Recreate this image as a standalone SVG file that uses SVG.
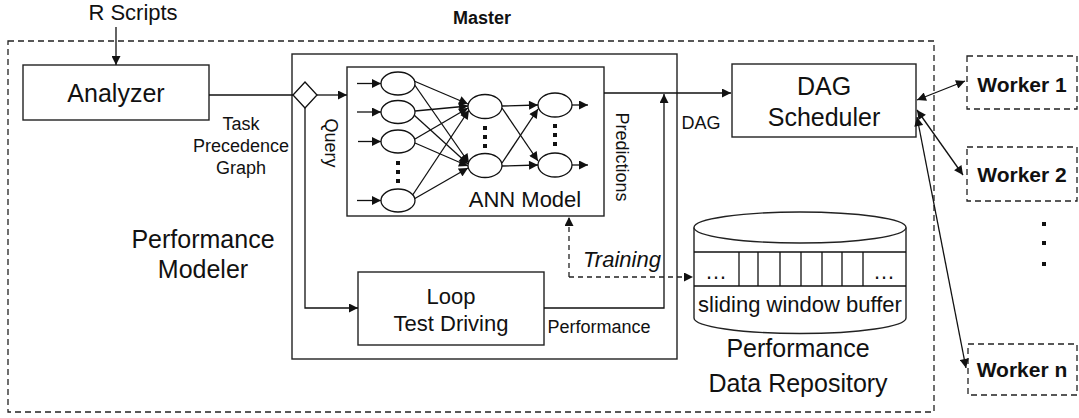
<svg xmlns="http://www.w3.org/2000/svg" width="1079" height="418" viewBox="0 0 1079 418">
<style>
text{font-family:"Liberation Sans",Arial,sans-serif;fill:#111}
.box{fill:#fff;stroke:#222;stroke-width:1.4}
.dash{fill:none;stroke:#222;stroke-width:1.3;stroke-dasharray:6 4}
.ln{fill:none;stroke:#111;stroke-width:1.3}
.arr{marker-end:url(#ah)}
.big{font-size:25px}
.mid{font-size:22px}
.sm{font-size:18px}
.bold{font-weight:bold}
.nd{fill:#fff;stroke:#111;stroke-width:1.3}
</style>
<defs>
<marker id="ah" viewBox="0 0 10 10" refX="10" refY="5" markerWidth="10" markerHeight="9" markerUnits="userSpaceOnUse" orient="auto-start-reverse">
<path d="M0,0 L10,5 L0,10 z" fill="#111"/>
</marker>
</defs>

<g id="master">
<rect x="8" y="41" width="926" height="371" class="dash"/>
<text x="482" y="24" text-anchor="middle" class="bold" font-size="18">Master</text>
</g>

<g id="r-scripts">
<text x="133" y="20" text-anchor="middle" class="mid">R Scripts</text>
</g>

<g id="analyzer">
<rect x="23" y="65" width="186" height="55" class="box"/>
<text x="116" y="102" text-anchor="middle" class="big">Analyzer</text>
</g>

<g id="performance-modeler">
<rect x="292" y="54" width="385" height="305" class="box" fill="none" style="fill:none"/>
<text x="203" y="248" text-anchor="middle" class="big">Performance</text>
<text x="203" y="278" text-anchor="middle" class="big">Modeler</text>
</g>

<g id="diamond">
<polygon points="305,82 317,95 305,108 293,95" class="nd"/>
</g>

<g id="ann-model">
<rect x="347" y="67" width="257" height="149" class="box"/>
<text x="525" y="207" text-anchor="middle" class="mid">ANN Model</text>
<g class="ln">
<line x1="357" y1="83.5" x2="381" y2="83.5" class="arr"/>
<line x1="357" y1="112" x2="381" y2="112" class="arr"/>
<line x1="358" y1="141.5" x2="381" y2="141.5" class="arr"/>
<line x1="357" y1="200.5" x2="381" y2="200.5" class="arr"/>
<line x1="414" y1="81" x2="468" y2="104" class="arr"/>
<line x1="414" y1="84" x2="469" y2="163" class="arr"/>
<line x1="415" y1="111" x2="468" y2="106" class="arr"/>
<line x1="414" y1="115" x2="468" y2="164" class="arr"/>
<line x1="415" y1="139" x2="468" y2="108" class="arr"/>
<line x1="415" y1="143" x2="468" y2="166" class="arr"/>
<line x1="412" y1="196" x2="469" y2="110" class="arr"/>
<line x1="414" y1="199" x2="468" y2="168" class="arr"/>
<line x1="502" y1="106" x2="538" y2="105" class="arr"/>
<line x1="502" y1="108" x2="538" y2="161" class="arr"/>
<line x1="502" y1="163" x2="538" y2="109" class="arr"/>
<line x1="502" y1="166" x2="538" y2="165" class="arr"/>
<line x1="572" y1="105" x2="588" y2="105" class="arr"/>
<line x1="572" y1="165" x2="588" y2="165" class="arr"/>
</g>
<ellipse cx="398" cy="83.5" rx="17" ry="11.5" class="nd"/>
<ellipse cx="398" cy="112" rx="17" ry="11.5" class="nd"/>
<ellipse cx="398" cy="141.5" rx="17" ry="11.5" class="nd"/>
<ellipse cx="398" cy="200.5" rx="17" ry="11.5" class="nd"/>
<ellipse cx="485" cy="106.5" rx="17" ry="12" class="nd"/>
<ellipse cx="485" cy="165.5" rx="17" ry="12" class="nd"/>
<ellipse cx="555" cy="105" rx="17" ry="12" class="nd"/>
<ellipse cx="555" cy="165" rx="17" ry="12" class="nd"/>
<g fill="#111">
<rect x="396" y="161" width="4" height="4"/><rect x="396" y="170" width="4" height="4"/><rect x="396" y="179" width="4" height="4"/>
<rect x="483" y="126" width="4" height="4"/><rect x="483" y="135" width="4" height="4"/><rect x="483" y="144" width="4" height="4"/>
<rect x="553" y="124" width="4" height="4"/><rect x="553" y="133" width="4" height="4"/><rect x="553" y="142" width="4" height="4"/>
</g>
</g>

<g id="loop-test-driving">
<rect x="358" y="272" width="186" height="73" class="box"/>
<text x="451" y="304" text-anchor="middle" class="mid">Loop</text>
<text x="451" y="331" text-anchor="middle" class="mid">Test Driving</text>
</g>

<g id="dag-scheduler">
<rect x="732" y="64" width="184" height="73" class="box"/>
<text x="824" y="95" text-anchor="middle" class="big">DAG</text>
<text x="824" y="126" text-anchor="middle" class="big">Scheduler</text>
</g>

<g id="data-repository">
<path d="M694,227.5 V318 A106,15.5 0 0 0 906,318 V227.5" class="box"/>
<ellipse cx="800" cy="227.5" rx="106" ry="15.5" class="box"/>
<g class="ln">
<line x1="694" y1="252" x2="906" y2="252"/>
<line x1="694" y1="286" x2="906" y2="286"/>
<line x1="739" y1="252" x2="739" y2="286"/>
<line x1="758" y1="252" x2="758" y2="286"/>
<line x1="780" y1="252" x2="780" y2="286"/>
<line x1="801" y1="252" x2="801" y2="286"/>
<line x1="822" y1="252" x2="822" y2="286"/>
<line x1="842" y1="252" x2="842" y2="286"/>
<line x1="863" y1="252" x2="863" y2="286"/>
</g>
<text x="716" y="279" text-anchor="middle" class="mid">…</text>
<text x="884" y="279" text-anchor="middle" class="mid">…</text>
<text x="800" y="312" text-anchor="middle" class="mid">sliding window buffer</text>
<text x="798" y="357" text-anchor="middle" class="big">Performance</text>
<text x="798" y="392" text-anchor="middle" class="big">Data Repository</text>
</g>

<g id="worker-1">
<rect x="967" y="56" width="110" height="53" class="dash"/>
<text x="1022" y="92" text-anchor="middle" class="bold" font-size="21">Worker 1</text>
</g>
<g id="worker-2">
<rect x="967" y="147" width="110" height="54" class="dash"/>
<text x="1022" y="182" text-anchor="middle" class="bold" font-size="21">Worker 2</text>
</g>
<g id="worker-n">
<rect x="968" y="344" width="109" height="51" class="dash"/>
<text x="1022" y="377" text-anchor="middle" class="bold" font-size="21">Worker n</text>
</g>
<g id="worker-dots" fill="#111">
<rect x="1042" y="222" width="4" height="4"/>
<rect x="1042" y="241" width="4" height="4"/>
<rect x="1042" y="262" width="4" height="4"/>
</g>

<g id="connectors">
<line x1="116" y1="27" x2="116" y2="65" class="ln arr"/>
<line x1="209" y1="95" x2="293" y2="95" class="ln"/>
<line x1="317" y1="95" x2="347" y2="95" class="ln arr"/>
<polyline points="305,108 305,308 358,308" class="ln arr"/>
<polyline points="544,308 664,308 664,94" class="ln arr"/>
<line x1="604" y1="93" x2="731" y2="93" class="ln arr"/>
<polyline points="569,277 569,217" class="dash arr" style="stroke-dasharray:5 4"/>
<line x1="569" y1="277" x2="693" y2="277" class="dash arr" style="stroke-dasharray:5 4"/>
<line x1="917" y1="100" x2="965" y2="81" class="ln arr" marker-start="url(#ah)"/>
<line x1="917" y1="110" x2="963" y2="175" class="ln arr" marker-start="url(#ah)"/>
<line x1="917" y1="117" x2="966" y2="368" class="ln arr" marker-start="url(#ah)"/>
<text x="241" y="130" text-anchor="middle" class="sm">Task</text>
<text x="241" y="152" text-anchor="middle" class="sm">Precedence</text>
<text x="241" y="174" text-anchor="middle" class="sm">Graph</text>
<text x="0" y="0" class="sm" text-anchor="middle" transform="translate(325,143) rotate(90)">Query</text>
<text x="0" y="0" class="sm" text-anchor="middle" transform="translate(616,157) rotate(90)">Predictions</text>
<text x="701" y="129" text-anchor="middle" class="sm">DAG</text>
<text x="599" y="333" text-anchor="middle" class="sm">Performance</text>
<text x="622" y="267" text-anchor="middle" class="mid" font-style="italic">Training</text>
</g>
</svg>
